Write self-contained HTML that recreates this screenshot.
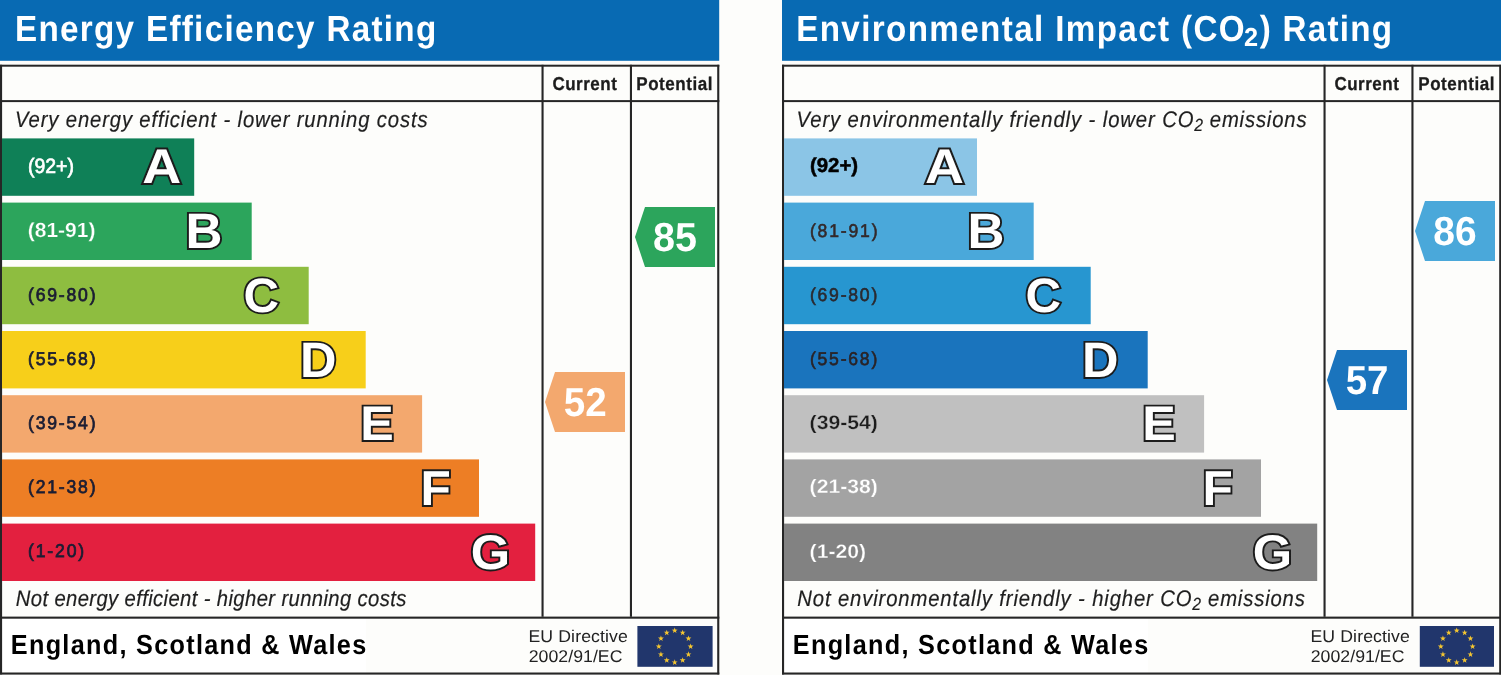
<!DOCTYPE html>
<html><head><meta charset="utf-8"><title>Energy Performance Ratings</title>
<style>html,body{margin:0;padding:0;background:#fdfdfb}body{width:1501px;height:675px;overflow:hidden}svg{display:block}text{white-space:pre;text-rendering:geometricPrecision}</style>
</head><body>
<svg width="1501" height="675" viewBox="0 0 1501 675" font-family='&quot;Liberation Sans&quot;, Arial, sans-serif'>
<rect width="1501" height="675" fill="#fdfdfb"/>
<g transform="translate(0,0)">
<rect x="0" y="0" width="719.2" height="60.8" fill="#086ab3"/>
<rect x="2" y="618" width="364" height="54.5" fill="#fff"/>
<g fill="#262626">
<rect x="0" y="64.7" width="719.3" height="2"/>
<rect x="0" y="100.1" width="719.3" height="2"/>
<rect x="0" y="616.6" width="719.3" height="2.1"/>
<rect x="0" y="672.5" width="719.3" height="2.1"/>
<rect x="0" y="64.8" width="2.1" height="609.6"/>
<rect x="717.2" y="64.8" width="2.1" height="609.6"/>
<rect x="541.5" y="64.8" width="2.1" height="552"/>
<rect x="629.9" y="64.8" width="2.1" height="552"/>
</g>
<rect x="2" y="138.4" width="192.2" height="57.4" fill="#0f8057"/>
<rect x="2" y="202.6" width="249.7" height="57.4" fill="#2ca55c"/>
<rect x="2" y="266.8" width="306.7" height="57.4" fill="#8ebd40"/>
<rect x="2" y="331.0" width="363.7" height="57.4" fill="#f7cf1a"/>
<rect x="2" y="395.2" width="420.1" height="57.4" fill="#f3a86e"/>
<rect x="2" y="459.4" width="477.0" height="57.4" fill="#ed7e25"/>
<rect x="2" y="523.6" width="533.2" height="57.4" fill="#e3203f"/>
<rect x="637.4" y="626" width="75.2" height="40.8" fill="#21366c"/>
<g fill="#f5c630"><polygon points="674.70,627.50 675.43,629.60 677.65,629.64 675.88,630.98 676.52,633.11 674.70,631.84 672.88,633.11 673.52,630.98 671.75,629.64 673.97,629.60"/><polygon points="682.65,629.63 683.38,631.73 685.60,631.77 683.83,633.11 684.47,635.24 682.65,633.97 680.83,635.24 681.47,633.11 679.70,631.77 681.92,631.73"/><polygon points="688.47,635.45 689.20,637.55 691.42,637.59 689.65,638.93 690.29,641.06 688.47,639.79 686.65,641.06 687.29,638.93 685.52,637.59 687.74,637.55"/><polygon points="690.60,643.40 691.33,645.50 693.55,645.54 691.78,646.88 692.42,649.01 690.60,647.74 688.78,649.01 689.42,646.88 687.65,645.54 689.87,645.50"/><polygon points="688.47,651.35 689.20,653.45 691.42,653.49 689.65,654.83 690.29,656.96 688.47,655.69 686.65,656.96 687.29,654.83 685.52,653.49 687.74,653.45"/><polygon points="682.65,657.17 683.38,659.27 685.60,659.31 683.83,660.65 684.47,662.78 682.65,661.51 680.83,662.78 681.47,660.65 679.70,659.31 681.92,659.27"/><polygon points="674.70,659.30 675.43,661.40 677.65,661.44 675.88,662.78 676.52,664.91 674.70,663.64 672.88,664.91 673.52,662.78 671.75,661.44 673.97,661.40"/><polygon points="666.75,657.17 667.48,659.27 669.70,659.31 667.93,660.65 668.57,662.78 666.75,661.51 664.93,662.78 665.57,660.65 663.80,659.31 666.02,659.27"/><polygon points="660.93,651.35 661.66,653.45 663.88,653.49 662.11,654.83 662.75,656.96 660.93,655.69 659.11,656.96 659.75,654.83 657.98,653.49 660.20,653.45"/><polygon points="658.80,643.40 659.53,645.50 661.75,645.54 659.98,646.88 660.62,649.01 658.80,647.74 656.98,649.01 657.62,646.88 655.85,645.54 658.07,645.50"/><polygon points="660.93,635.45 661.66,637.55 663.88,637.59 662.11,638.93 662.75,641.06 660.93,639.79 659.11,641.06 659.75,638.93 657.98,637.59 660.20,637.55"/><polygon points="666.75,629.63 667.48,631.73 669.70,631.77 667.93,633.11 668.57,635.24 666.75,633.97 664.93,635.24 665.57,633.11 663.80,631.77 666.02,631.73"/></g>
</g>
<g transform="translate(782,0)">
<rect x="0" y="0" width="719.2" height="60.8" fill="#086ab3"/>
<rect x="2" y="618" width="364" height="54.5" fill="#fff"/>
<g fill="#262626">
<rect x="0" y="64.7" width="719.3" height="2"/>
<rect x="0" y="100.1" width="719.3" height="2"/>
<rect x="0" y="616.6" width="719.3" height="2.1"/>
<rect x="0" y="672.5" width="719.3" height="2.1"/>
<rect x="0" y="64.8" width="2.1" height="609.6"/>
<rect x="717.2" y="64.8" width="2.1" height="609.6"/>
<rect x="541.5" y="64.8" width="2.1" height="552"/>
<rect x="629.4" y="64.8" width="2.1" height="552"/>
</g>
<rect x="2" y="138.4" width="193.0" height="57.4" fill="#8bc5e6"/>
<rect x="2" y="202.6" width="249.7" height="57.4" fill="#4aa8da"/>
<rect x="2" y="266.8" width="306.7" height="57.4" fill="#2796d0"/>
<rect x="2" y="331.0" width="363.7" height="57.4" fill="#1a74bd"/>
<rect x="2" y="395.2" width="420.1" height="57.4" fill="#c0c0c0"/>
<rect x="2" y="459.4" width="477.0" height="57.4" fill="#a3a3a3"/>
<rect x="2" y="523.6" width="533.2" height="57.4" fill="#828282"/>
<rect x="637.8" y="626" width="74.2" height="40.8" fill="#21366c"/>
<g fill="#f5c630"><polygon points="674.70,627.50 675.43,629.60 677.65,629.64 675.88,630.98 676.52,633.11 674.70,631.84 672.88,633.11 673.52,630.98 671.75,629.64 673.97,629.60"/><polygon points="682.65,629.63 683.38,631.73 685.60,631.77 683.83,633.11 684.47,635.24 682.65,633.97 680.83,635.24 681.47,633.11 679.70,631.77 681.92,631.73"/><polygon points="688.47,635.45 689.20,637.55 691.42,637.59 689.65,638.93 690.29,641.06 688.47,639.79 686.65,641.06 687.29,638.93 685.52,637.59 687.74,637.55"/><polygon points="690.60,643.40 691.33,645.50 693.55,645.54 691.78,646.88 692.42,649.01 690.60,647.74 688.78,649.01 689.42,646.88 687.65,645.54 689.87,645.50"/><polygon points="688.47,651.35 689.20,653.45 691.42,653.49 689.65,654.83 690.29,656.96 688.47,655.69 686.65,656.96 687.29,654.83 685.52,653.49 687.74,653.45"/><polygon points="682.65,657.17 683.38,659.27 685.60,659.31 683.83,660.65 684.47,662.78 682.65,661.51 680.83,662.78 681.47,660.65 679.70,659.31 681.92,659.27"/><polygon points="674.70,659.30 675.43,661.40 677.65,661.44 675.88,662.78 676.52,664.91 674.70,663.64 672.88,664.91 673.52,662.78 671.75,661.44 673.97,661.40"/><polygon points="666.75,657.17 667.48,659.27 669.70,659.31 667.93,660.65 668.57,662.78 666.75,661.51 664.93,662.78 665.57,660.65 663.80,659.31 666.02,659.27"/><polygon points="660.93,651.35 661.66,653.45 663.88,653.49 662.11,654.83 662.75,656.96 660.93,655.69 659.11,656.96 659.75,654.83 657.98,653.49 660.20,653.45"/><polygon points="658.80,643.40 659.53,645.50 661.75,645.54 659.98,646.88 660.62,649.01 658.80,647.74 656.98,649.01 657.62,646.88 655.85,645.54 658.07,645.50"/><polygon points="660.93,635.45 661.66,637.55 663.88,637.59 662.11,638.93 662.75,641.06 660.93,639.79 659.11,641.06 659.75,638.93 657.98,637.59 660.20,637.55"/><polygon points="666.75,629.63 667.48,631.73 669.70,631.77 667.93,633.11 668.57,635.24 666.75,633.97 664.93,635.24 665.57,633.11 663.80,631.77 666.02,631.73"/></g>
</g>
<polygon points="545,402 555,372 625,372 625,432 555,432" fill="#f3a86e"/>
<polygon points="635,237 645,207 715,207 715,267 645,267" fill="#2ca55c"/>
<polygon points="1327,380 1337,350 1407,350 1407,410 1337,410" fill="#1a74bd"/>
<polygon points="1415,231 1425,201 1495,201 1495,261 1425,261" fill="#4aa8da"/>
<text transform="translate(142.26,182.50) scale(1.1048,1)" font-size="48.84" font-weight="bold" fill="#fff" stroke="#1c1c1c" stroke-width="3.80" paint-order="stroke" stroke-linejoin="miter">A</text>
<text transform="translate(185.48,247.70) scale(1.0291,1)" font-size="49.71" font-weight="bold" fill="#fff" stroke="#1c1c1c" stroke-width="3.80" paint-order="stroke" stroke-linejoin="miter">B</text>
<text transform="translate(243.48,312.03) scale(1.0196,1)" font-size="48.30" font-weight="bold" fill="#fff" stroke="#1c1c1c" stroke-width="3.80" paint-order="stroke" stroke-linejoin="miter">C</text>
<text transform="translate(300.12,377.10) scale(1.0169,1)" font-size="49.71" font-weight="bold" fill="#fff" stroke="#1c1c1c" stroke-width="3.80" paint-order="stroke" stroke-linejoin="miter">D</text>
<text transform="translate(360.14,439.70) scale(1.0354,1)" font-size="48.55" font-weight="bold" fill="#fff" stroke="#1c1c1c" stroke-width="3.80" paint-order="stroke" stroke-linejoin="miter">E</text>
<text transform="translate(420.58,504.70) scale(1.0111,1)" font-size="49.13" font-weight="bold" fill="#fff" stroke="#1c1c1c" stroke-width="3.80" paint-order="stroke" stroke-linejoin="miter">F</text>
<text transform="translate(470.82,568.62) scale(1.0371,1)" font-size="48.87" font-weight="bold" fill="#fff" stroke="#1c1c1c" stroke-width="3.80" paint-order="stroke" stroke-linejoin="miter">G</text>
<text transform="translate(925.06,182.50) scale(1.1048,1)" font-size="48.84" font-weight="bold" fill="#fff" stroke="#1c1c1c" stroke-width="3.80" paint-order="stroke" stroke-linejoin="miter">A</text>
<text transform="translate(967.48,247.70) scale(1.0291,1)" font-size="49.71" font-weight="bold" fill="#fff" stroke="#1c1c1c" stroke-width="3.80" paint-order="stroke" stroke-linejoin="miter">B</text>
<text transform="translate(1025.48,312.03) scale(1.0196,1)" font-size="48.30" font-weight="bold" fill="#fff" stroke="#1c1c1c" stroke-width="3.80" paint-order="stroke" stroke-linejoin="miter">C</text>
<text transform="translate(1082.12,377.10) scale(1.0169,1)" font-size="49.71" font-weight="bold" fill="#fff" stroke="#1c1c1c" stroke-width="3.80" paint-order="stroke" stroke-linejoin="miter">D</text>
<text transform="translate(1142.14,439.70) scale(1.0354,1)" font-size="48.55" font-weight="bold" fill="#fff" stroke="#1c1c1c" stroke-width="3.80" paint-order="stroke" stroke-linejoin="miter">E</text>
<text transform="translate(1202.58,504.70) scale(1.0111,1)" font-size="49.13" font-weight="bold" fill="#fff" stroke="#1c1c1c" stroke-width="3.80" paint-order="stroke" stroke-linejoin="miter">F</text>
<text transform="translate(1252.82,568.62) scale(1.0371,1)" font-size="48.87" font-weight="bold" fill="#fff" stroke="#1c1c1c" stroke-width="3.80" paint-order="stroke" stroke-linejoin="miter">G</text>
<text transform="translate(14.98,41.00) scale(0.9150,1)" font-size="36.30" fill="#fff" font-weight="bold" letter-spacing="1.425">Energy Efficiency Rating</text>
<text transform="translate(552.45,89.50) scale(0.9150,1)" font-size="18.60" fill="#1c1c1c" font-weight="bold" stroke="#1c1c1c" stroke-width="0.30" letter-spacing="0.540">Current</text>
<text transform="translate(636.31,89.50) scale(0.9150,1)" font-size="18.60" fill="#1c1c1c" font-weight="bold" stroke="#1c1c1c" stroke-width="0.30" letter-spacing="0.574">Potential</text>
<text transform="translate(10.81,653.60) scale(0.9150,1)" font-size="27.60" fill="#000" font-weight="bold" letter-spacing="1.407">England, Scotland &amp; Wales</text>
<text transform="translate(528.45,641.90) scale(1.0400,1)" font-size="17.00" fill="#222" letter-spacing="0.104">EU Directive</text>
<text transform="translate(528.71,662.30) scale(1.0400,1)" font-size="17.00" fill="#222" letter-spacing="0.041">2002/91/EC</text>
<text transform="translate(1334.45,89.50) scale(0.9150,1)" font-size="18.60" fill="#1c1c1c" font-weight="bold" stroke="#1c1c1c" stroke-width="0.30" letter-spacing="0.540">Current</text>
<text transform="translate(1418.31,89.50) scale(0.9150,1)" font-size="18.60" fill="#1c1c1c" font-weight="bold" stroke="#1c1c1c" stroke-width="0.30" letter-spacing="0.574">Potential</text>
<text transform="translate(792.81,653.60) scale(0.9150,1)" font-size="27.60" fill="#000" font-weight="bold" letter-spacing="1.407">England, Scotland &amp; Wales</text>
<text transform="translate(1310.45,641.90) scale(1.0400,1)" font-size="17.00" fill="#222" letter-spacing="0.104">EU Directive</text>
<text transform="translate(1310.71,662.30) scale(1.0400,1)" font-size="17.00" fill="#222" letter-spacing="0.041">2002/91/EC</text>
<text transform="translate(14.95,126.90) scale(0.9000,1)" font-size="22.50" fill="#1e1e1e" font-style="italic" stroke="#1e1e1e" stroke-width="0.20" letter-spacing="0.960">Very energy efficient - lower running costs</text>
<text transform="translate(15.78,605.90) scale(0.9000,1)" font-size="22.50" fill="#1e1e1e" font-style="italic" stroke="#1e1e1e" stroke-width="0.20" letter-spacing="0.416">Not energy efficient - higher running costs</text>
<text transform="translate(796.18,41.00) scale(0.9150,1)" font-size="36.30" fill="#fff" font-weight="bold" letter-spacing="1.490">Environmental Impact (CO</text>
<text transform="translate(1244.12,46.20) scale(0.9746,1)" font-size="26.00" fill="#fff" font-weight="bold">2</text>
<text transform="translate(1259.77,41.00) scale(0.9150,1)" font-size="36.30" fill="#fff" font-weight="bold" letter-spacing="1.351">) Rating</text>
<text transform="translate(796.55,126.80) scale(0.9000,1)" font-size="22.50" fill="#1e1e1e" font-style="italic" stroke="#1e1e1e" stroke-width="0.20" letter-spacing="1.005">Very environmentally friendly - lower CO</text>
<text transform="translate(1194.19,130.80) scale(0.8930,1)" font-size="17.60" fill="#1e1e1e" font-style="italic" stroke="#1e1e1e" stroke-width="0.20">2</text>
<text transform="translate(1209.82,126.80) scale(0.9000,1)" font-size="22.50" fill="#1e1e1e" font-style="italic" stroke="#1e1e1e" stroke-width="0.20" letter-spacing="0.926">emissions</text>
<text transform="translate(797.28,606.20) scale(0.9000,1)" font-size="22.50" fill="#1e1e1e" font-style="italic" stroke="#1e1e1e" stroke-width="0.20" letter-spacing="0.970">Not environmentally friendly - higher CO</text>
<text transform="translate(1192.19,610.20) scale(0.8930,1)" font-size="17.60" fill="#1e1e1e" font-style="italic" stroke="#1e1e1e" stroke-width="0.20">2</text>
<text transform="translate(1208.02,606.20) scale(0.9000,1)" font-size="22.50" fill="#1e1e1e" font-style="italic" stroke="#1e1e1e" stroke-width="0.20" letter-spacing="0.940">emissions</text>
<text transform="translate(28.05,172.50) scale(0.9324,1)" font-size="20.80" fill="#fff" stroke="#fff" stroke-width="0.70">(92+)</text>
<text transform="translate(27.73,237.20) scale(1.0235,1)" font-size="20.50" fill="#fff" font-weight="bold" stroke="#2ca55c" stroke-width="0.25">(81-91)</text>
<text transform="translate(27.99,301.00) scale(0.9500,1)" font-size="18.50" fill="#1b1d33" stroke="#1b1d33" stroke-width="0.75" letter-spacing="1.908">(69-80)</text>
<text transform="translate(27.99,364.70) scale(0.9500,1)" font-size="18.50" fill="#1b1d33" stroke="#1b1d33" stroke-width="0.75" letter-spacing="1.908">(55-68)</text>
<text transform="translate(27.99,428.90) scale(0.9500,1)" font-size="18.50" fill="#1b1d33" stroke="#1b1d33" stroke-width="0.75" letter-spacing="1.908">(39-54)</text>
<text transform="translate(27.99,493.10) scale(0.9500,1)" font-size="18.50" fill="#1b1d33" stroke="#1b1d33" stroke-width="0.75" letter-spacing="1.908">(21-38)</text>
<text transform="translate(27.99,557.30) scale(0.9500,1)" font-size="18.50" fill="#1b1d33" stroke="#1b1d33" stroke-width="0.75" letter-spacing="1.968">(1-20)</text>
<text transform="translate(809.93,172.40) scale(1.0093,1)" font-size="20.20" fill="#000" font-weight="bold" stroke="#000" stroke-width="0.50">(92+)</text>
<text transform="translate(809.91,236.80) scale(0.9500,1)" font-size="18.50" fill="#33292a" stroke="#33292a" stroke-width="0.60" letter-spacing="1.934">(81-91)</text>
<text transform="translate(809.91,301.00) scale(0.9500,1)" font-size="18.50" fill="#2a2a30" stroke="#2a2a30" stroke-width="0.60" letter-spacing="1.881">(69-80)</text>
<text transform="translate(809.91,364.70) scale(0.9500,1)" font-size="18.50" fill="#2a2326" stroke="#2a2326" stroke-width="0.60" letter-spacing="1.881">(55-68)</text>
<text transform="translate(809.59,429.20) scale(1.0867,1)" font-size="19.50" fill="#1c1c1c" font-weight="bold" stroke="#c0c0c0" stroke-width="0.30">(39-54)</text>
<text transform="translate(809.59,493.40) scale(1.0867,1)" font-size="19.50" fill="#fff" font-weight="bold" stroke="#a3a3a3" stroke-width="0.30">(21-38)</text>
<text transform="translate(809.59,557.60) scale(1.0864,1)" font-size="19.50" fill="#fff" font-weight="bold" stroke="#828282" stroke-width="0.30">(1-20)</text>
<text transform="translate(563.71,416.00) scale(0.9530,1)" font-size="40.50" fill="#fff" font-weight="bold">52</text>
<text transform="translate(652.95,251.20) scale(0.9757,1)" font-size="40.50" fill="#fff" font-weight="bold">85</text>
<text transform="translate(1345.72,393.80) scale(0.9495,1)" font-size="40.50" fill="#fff" font-weight="bold">57</text>
<text transform="translate(1433.26,245.00) scale(0.9622,1)" font-size="40.50" fill="#fff" font-weight="bold">86</text>
</svg>
</body></html>
